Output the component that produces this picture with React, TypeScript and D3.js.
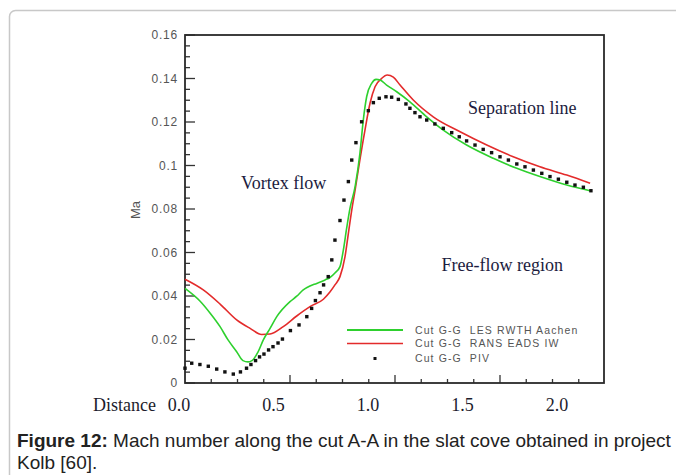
import React from "react";
import * as d3 from "d3";

// ---- data (x: distance along cut, y: Mach number) ----
const lesX = [0, 0.071, 0.119, 0.167, 0.205, 0.246, 0.276, 0.3, 0.319, 0.348, 0.373, 0.405, 0.437, 0.5, 0.532, 0.563, 0.595, 0.627, 0.667, 0.69, 0.714, 0.738, 0.754, 0.77, 0.786, 0.81, 0.833, 0.849, 0.865, 0.889, 0.91, 0.929, 0.96, 1.008, 1.071, 1.151, 1.23, 1.341, 1.468, 1.58, 1.69, 1.818, 1.929];
const lesY = [0.0435, 0.0377, 0.0322, 0.0259, 0.0198, 0.0144, 0.0103, 0.0097, 0.0103, 0.0143, 0.0198, 0.0251, 0.0305, 0.0374, 0.0399, 0.0428, 0.0446, 0.0458, 0.0474, 0.0485, 0.0506, 0.0535, 0.0611, 0.0713, 0.0805, 0.0903, 0.1056, 0.1209, 0.1316, 0.1378, 0.1396, 0.1393, 0.137, 0.1339, 0.1293, 0.1224, 0.1163, 0.1094, 0.1033, 0.0987, 0.0949, 0.091, 0.0884];

const ransX = [0, 0.087, 0.167, 0.246, 0.31, 0.365, 0.405, 0.468, 0.532, 0.595, 0.659, 0.69, 0.714, 0.738, 0.762, 0.778, 0.794, 0.81, 0.825, 0.857, 0.881, 0.905, 0.937, 0.963, 0.992, 1.024, 1.087, 1.182, 1.31, 1.437, 1.563, 1.69, 1.818, 1.929];
const ransY = [0.0477, 0.0428, 0.0363, 0.029, 0.0251, 0.0223, 0.0225, 0.0259, 0.0308, 0.0351, 0.0385, 0.0418, 0.0451, 0.0489, 0.0581, 0.0688, 0.0795, 0.0887, 0.0979, 0.1163, 0.1286, 0.1362, 0.1401, 0.1416, 0.1406, 0.137, 0.1301, 0.1224, 0.1155, 0.1094, 0.104, 0.0994, 0.0956, 0.0918];

const pivX = [0, 0.032, 0.071, 0.111, 0.151, 0.19, 0.23, 0.264, 0.293, 0.314, 0.336, 0.355, 0.376, 0.398, 0.419, 0.443, 0.464, 0.502, 0.543, 0.58, 0.603, 0.621, 0.643, 0.66, 0.682, 0.699, 0.714, 0.738, 0.757, 0.778, 0.794, 0.814, 0.841, 0.873, 0.897, 0.925, 0.957, 0.984, 1.016, 1.052, 1.071, 1.095, 1.119, 1.151, 1.19, 1.23, 1.27, 1.306, 1.341, 1.381, 1.42, 1.46, 1.5, 1.54, 1.58, 1.619, 1.659, 1.699, 1.738, 1.778, 1.818, 1.857, 1.897, 1.933];
const pivY = [0.0068, 0.0091, 0.0085, 0.0077, 0.0064, 0.0051, 0.0041, 0.0051, 0.0068, 0.0085, 0.0103, 0.012, 0.0133, 0.0152, 0.0167, 0.0184, 0.0202, 0.0241, 0.0267, 0.0305, 0.0343, 0.0379, 0.0415, 0.0451, 0.0489, 0.0566, 0.0657, 0.0747, 0.0841, 0.0926, 0.1025, 0.1105, 0.1201, 0.1252, 0.1289, 0.1309, 0.1316, 0.1314, 0.1304, 0.1283, 0.1263, 0.1243, 0.1224, 0.1209, 0.1191, 0.1171, 0.1151, 0.1132, 0.1113, 0.1094, 0.1074, 0.1059, 0.104, 0.1025, 0.1007, 0.0994, 0.0979, 0.0964, 0.0949, 0.0937, 0.0923, 0.091, 0.09, 0.0884];

const yTickValues = [0, 0.02, 0.04, 0.06, 0.08, 0.1, 0.12, 0.14, 0.16];
const xTickLabels = ["0.0", "0.5", "1.0", "1.5", "2.0"];
const legendLabels = ["Cut G-G  LES RWTH Aachen", "Cut G-G  RANS EADS IW", "Cut G-G  PIV"];
const annotations = [
  { text: "Vortex flow", x: 0.267, y: 0.089 },
  { text: "Separation line", x: 1.348, y: 0.1237 },
  { text: "Free-flow region", x: 1.222, y: 0.0515 },
];

const GREEN = "#2ed02e";
const RED = "#e32b2b";

export default function App() {
  const L = 185, R = 604, T = 35, B = 383;
  const x = d3.scaleLinear().domain([0, 2]).range([185, 605]);
  const y = d3.scaleLinear().domain([0, 0.16]).range([B, T]);
  const labelX = d3.scaleLinear().domain([0, 2]).range([179, 557]);

  const line = d3
    .line<[number, number]>()
    .x((d) => x(d[0]))
    .y((d) => y(d[1]))
    .curve(d3.curveMonotoneX);

  const les = lesX.map((v, i) => [v, lesY[i]] as [number, number]);
  const rans = ransX.map((v, i) => [v, ransY[i]] as [number, number]);
  const piv = pivX.map((v, i) => [v, pivY[i]] as [number, number]);

  const yMinor = d3.range(0, 0.1601, 0.005).map((v) => +v.toFixed(3));
  const xMinor = d3.range(0.125, 2, 0.125).map((v) => +v.toFixed(3));
  const fmtY = (d: number) => (d === 0 ? "0" : String(+d.toFixed(2)));

  const axisFont = "'Liberation Sans', Arial, sans-serif";
  const serif = "'Liberation Serif', 'Times New Roman', serif";

  return (
    <svg
      width={676}
      height={475}
      style={{ position: "absolute", left: 0, top: 0, background: "#fff" }}
    >
      <rect x={9.5} y={10.5} width={720} height={520} rx={6} fill="none" stroke="#c8c8c8" strokeWidth={1.5} />

      {/* minor / major y ticks (inside) */}
      {yMinor.map((v) => {
        const major = Math.abs(v / 0.02 - Math.round(v / 0.02)) < 1e-6;
        return (
          <line key={"ym" + v} x1={L} x2={L + (major ? 10 : 5)} y1={y(v)} y2={y(v)} stroke="#333" strokeWidth={1.3} />
        );
      })}
      {xMinor.map((v) => {
        const major = Math.abs(v / 0.5 - Math.round(v / 0.5)) < 1e-6;
        return (
          <line key={"xm" + v} x1={x(v)} x2={x(v)} y1={B} y2={B - (major ? 8 : 4)} stroke="#333" strokeWidth={1.3} />
        );
      })}

      {/* frame */}
      <rect x={L} y={T} width={R - L} height={B - T} fill="none" stroke="#2a2a2a" strokeWidth={1.8} />

      {/* y tick labels */}
      {yTickValues.map((v) => (
        <text key={"yl" + v} x={178} y={y(v)} dy="0.35em" textAnchor="end" fontFamily={axisFont} fontSize={12} letterSpacing={0.8} fill="#555">
          {fmtY(v)}
        </text>
      ))}
      <text transform="translate(140,210) rotate(-90)" textAnchor="middle" fontFamily={axisFont} fontSize={13} fill="#555">
        Ma
      </text>

      {/* curves */}
      <path d={line(rans) || ""} fill="none" stroke={RED} strokeWidth={1.6} />
      <path d={line(les) || ""} fill="none" stroke={GREEN} strokeWidth={1.6} />
      {piv.map((d, i) => (
        <rect key={"p" + i} x={x(d[0]) - 1.7} y={y(d[1]) - 1.7} width={3.4} height={3.4} fill="#111" />
      ))}

      {/* annotations */}
      {annotations.map((a) => (
        <text key={a.text} x={x(a.x)} y={y(a.y)} fontFamily={serif} fontSize={18} fill="#1c1c40">
          {a.text}
        </text>
      ))}

      {/* legend */}
      <line x1={347} x2={403} y1={330} y2={330} stroke={GREEN} strokeWidth={1.8} />
      <line x1={347} x2={403} y1={343.5} y2={343.5} stroke={RED} strokeWidth={1.6} />
      <rect x={373.5} y={357} width={3} height={3} fill="#111" />
      {legendLabels.map((t, i) => (
        <text key={t} x={415} y={[330, 343.5, 358.5][i]} dy="0.35em" fontFamily={axisFont} fontSize={10.5} letterSpacing={1.1} fill="#555" style={{ whiteSpace: "pre" }}>
          {t}
        </text>
      ))}

      {/* distance row */}
      <text x={156} y={411} textAnchor="end" fontFamily={serif} fontSize={18} fill="#1c1c2c">
        Distance
      </text>
      {xTickLabels.map((t, i) => (
        <text key={t} x={labelX(i * 0.5)} y={411} textAnchor="middle" fontFamily={serif} fontSize={18} fill="#1c1c2c">
          {t}
        </text>
      ))}

      {/* caption */}
      <text x={17} y={447} fontFamily={axisFont} fontSize={19} fill="#222">
        <tspan fontWeight="bold">Figure 12:</tspan>
        <tspan> Mach number along the cut A-A in the slat cove obtained in project</tspan>
      </text>
      <text x={17} y={469} fontFamily={axisFont} fontSize={19} fill="#222">
        Kolb [60].
      </text>
    </svg>
  );
}
